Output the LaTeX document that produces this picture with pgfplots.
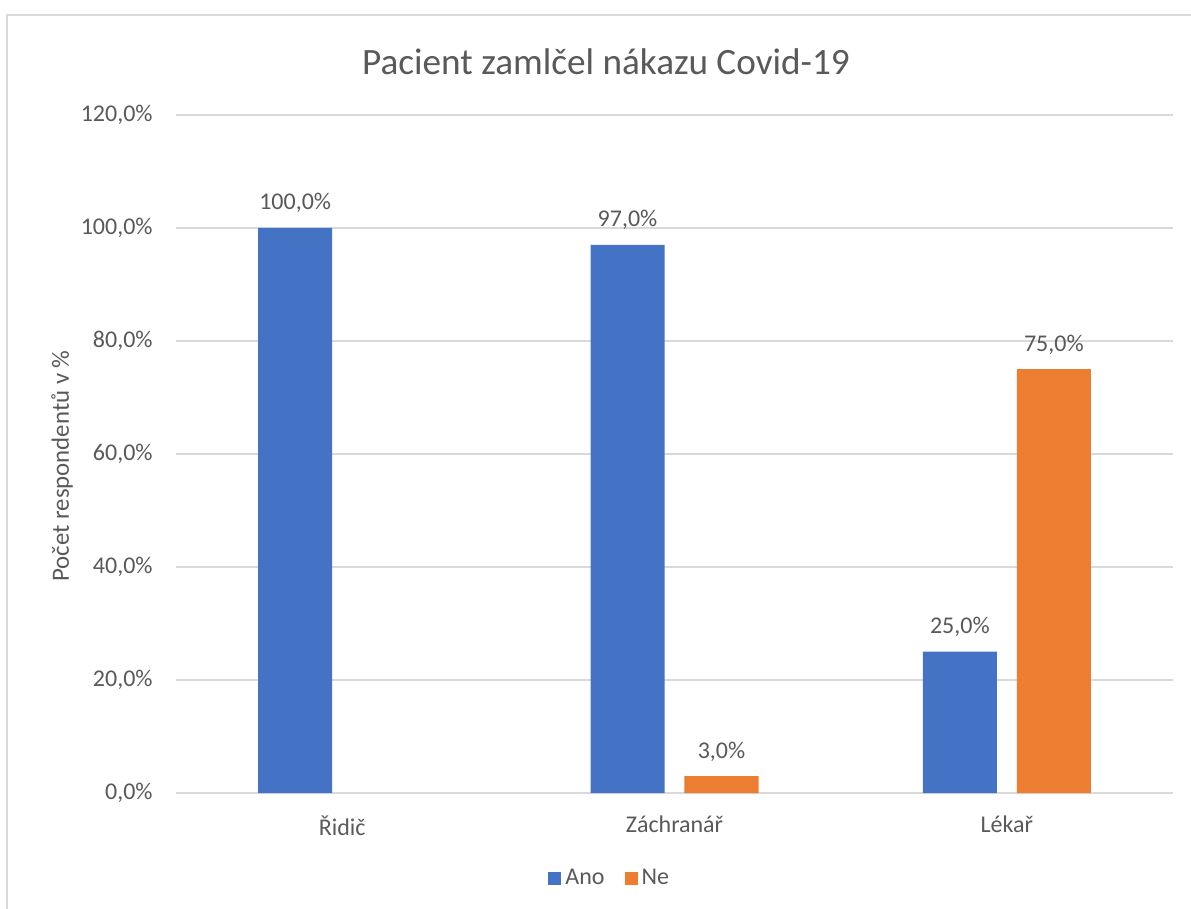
\documentclass[border=0pt]{standalone}
\usepackage{fontspec}
\setmainfont{Carlito}
\usepackage{pgfplots}
\pgfplotsset{compat=1.18}
\definecolor{ano}{HTML}{4472C4}
\definecolor{ne}{HTML}{ED7D31}
\definecolor{gridc}{HTML}{D9D9D9}
\definecolor{txt}{HTML}{595959}
\newcommand{\lbl}{\fontsize{12}{14}\selectfont}

\begin{document}
\begin{tikzpicture}
\path[use as bounding box] (0,0) rectangle (595.5pt,-454.5pt);
\draw[gridc, line width=0.8pt] (3.5pt,-454.5pt) -- (3.5pt,-7.5pt) -- (595.5pt,-7.5pt);
\node[txt, font=\fontsize{18.6}{21}\selectfont] at (303pt,-31pt) {Pacient zamlčel nákazu Covid-19};
\node[txt, font=\fontsize{12.4}{14}\selectfont, rotate=90] at (31pt,-233pt) {Počet respondentů v \%};
\begin{axis}[at={(88pt,-396.5pt)}, anchor=south west, scale only axis,
  width=498.5pt, height=339pt,
  xmin=-0.5, xmax=2.5, ymin=0, ymax=120,
  xtick={0,1,2}, xticklabels={Řidič,Záchranář,Lékař},
  ytick={0,20,...,120},
  /pgf/number format/assume math mode=true,
  yticklabel={\pgfmathprintnumber[fixed,fixed zerofill,precision=1,use comma]{\tick}\%},
  major tick length=0pt,
  axis lines*=left, y axis line style={draw=none},
  x axis line style={gridc, line width=1pt},
  ymajorgrids, grid style={gridc, line width=1pt},
  tick label style={font=\lbl, text=txt},
  yticklabel style={inner sep=0pt, xshift=-11.5pt},
  xticklabel style={inner sep=0pt, yshift=-11pt},
  legend columns=2,
  legend style={draw=none, at={(0.436,-0.1254)}, anchor=center, font=\lbl, text=txt,
    /tikz/every even column/.append style={column sep=8pt}},
  nodes near coords={\pgfmathprintnumber[fixed,fixed zerofill,precision=1,use comma]{\pgfplotspointmeta}\%},
  nodes near coords style={font=\lbl, text=txt, anchor=base, inner sep=0pt, yshift=9pt},
]
\addplot[ybar, fill=ano, draw=none, bar width=0.2227, bar shift=-0.1414,
  nodes near coords style={xshift=-23.5pt},
  legend image code/.code={\fill[ano] (0pt,-3.25pt) rectangle (6.5pt,3.25pt);}]
  coordinates {(0,100) (1,97) (2,25)};
\addlegendentry{Ano}
\addplot[ybar, fill=ne, draw=none, bar width=0.2227, bar shift=0.1414,
  nodes near coords style={xshift=23.5pt},
  legend image code/.code={\fill[ne] (0pt,-3.25pt) rectangle (6.5pt,3.25pt);}]
  coordinates {(1,3) (2,75)};
\addlegendentry{Ne}
\end{axis}
\end{tikzpicture}
\end{document}
